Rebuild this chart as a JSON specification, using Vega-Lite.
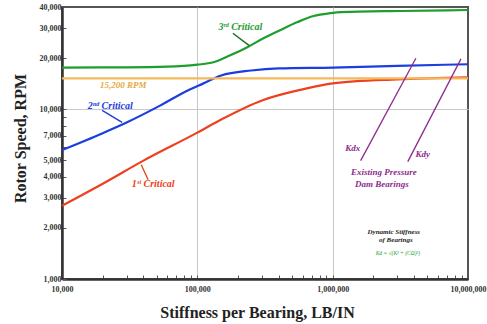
{
  "$schema": "https://vega.github.io/schema/vega-lite/v6.json",
  "autosize": "none",
  "width": 406,
  "height": 272,
  "padding": {"left": 62, "top": 7, "right": 19, "bottom": 45},
  "background": "white",
  "config": {
    "view": {"stroke": "#555555", "strokeWidth": 2},
    "font": "Liberation Serif",
    "axis": {
      "domainColor": "#333333",
      "domainWidth": 2.5,
      "tickColor": "#555555",
      "tickWidth": 1,
      "labelFont": "Liberation Serif",
      "labelFontWeight": "bold",
      "labelFontSize": 8,
      "labelColor": "#333333",
      "titleFont": "Liberation Serif",
      "titleFontWeight": "bold",
      "titleFontSize": 16,
      "titleColor": "#222222"
    }
  },
  "datasets": {
    "lines": [
      {"series": "3rd", "x": 10000, "y": 17600},
      {"series": "3rd", "x": 30000, "y": 17650},
      {"series": "3rd", "x": 60000, "y": 17800},
      {"series": "3rd", "x": 100000, "y": 18300},
      {"series": "3rd", "x": 131500, "y": 18900},
      {"series": "3rd", "x": 175000, "y": 20800},
      {"series": "3rd", "x": 234000, "y": 23200},
      {"series": "3rd", "x": 308000, "y": 26200},
      {"series": "3rd", "x": 412000, "y": 29300},
      {"series": "3rd", "x": 550000, "y": 32600},
      {"series": "3rd", "x": 723000, "y": 35400},
      {"series": "3rd", "x": 966000, "y": 36800},
      {"series": "3rd", "x": 1150000, "y": 37300},
      {"series": "3rd", "x": 3190000, "y": 37900},
      {"series": "3rd", "x": 10000000, "y": 38400},
      {"series": "2nd", "x": 10000, "y": 5750},
      {"series": "2nd", "x": 20000, "y": 7230},
      {"series": "2nd", "x": 30000, "y": 8350},
      {"series": "2nd", "x": 53000, "y": 10500},
      {"series": "2nd", "x": 85000, "y": 12900},
      {"series": "2nd", "x": 110000, "y": 14150},
      {"series": "2nd", "x": 150000, "y": 15800},
      {"series": "2nd", "x": 250000, "y": 16900},
      {"series": "2nd", "x": 400000, "y": 17400},
      {"series": "2nd", "x": 1000000, "y": 17600},
      {"series": "2nd", "x": 3000000, "y": 18000},
      {"series": "2nd", "x": 10000000, "y": 18400},
      {"series": "1st", "x": 10000, "y": 2700},
      {"series": "1st", "x": 20000, "y": 3640},
      {"series": "1st", "x": 40000, "y": 4980},
      {"series": "1st", "x": 100000, "y": 7280},
      {"series": "1st", "x": 150000, "y": 8690},
      {"series": "1st", "x": 300000, "y": 11260},
      {"series": "1st", "x": 600000, "y": 13100},
      {"series": "1st", "x": 1000000, "y": 14200},
      {"series": "1st", "x": 3000000, "y": 15000},
      {"series": "1st", "x": 10000000, "y": 15400},
      {"series": "rpm", "x": 10000, "y": 15200},
      {"series": "rpm", "x": 10000000, "y": 15200}
    ],
    "thin": [
      {"series": "Kdx", "x": 1610000, "y": 4980},
      {"series": "Kdx", "x": 4120000, "y": 19970},
      {"series": "Kdy", "x": 3590000, "y": 4910},
      {"series": "Kdy", "x": 8870000, "y": 19800},
      {"series": "a3", "x": 183000, "y": 28000},
      {"series": "a3", "x": 242000, "y": 23700},
      {"series": "a2", "x": 19800, "y": 9840},
      {"series": "a2", "x": 27800, "y": 8360},
      {"series": "a1", "x": 43300, "y": 3840},
      {"series": "a1", "x": 38500, "y": 4710}
    ],
    "labels": [
      {"group": "rpm", "text": "15,200 RPM", "x": 28300, "y": 13800},
      {"group": "2nd", "text": "2ⁿᵈ Critical", "x": 22700, "y": 10500},
      {"group": "3rd", "text": "3ʳᵈ Critical", "x": 208000, "y": 30450},
      {"group": "1st", "text": "1ˢᵗ Critical", "x": 47200, "y": 3640},
      {"group": "purple", "text": "Kdx", "x": 1410000, "y": 5870},
      {"group": "purple", "text": "Kdy", "x": 4640000, "y": 5470},
      {"group": "purple", "text": "Existing Pressure", "x": 2390000, "y": 4280},
      {"group": "purple", "text": "Dam Bearings", "x": 2310000, "y": 3640},
      {"group": "black", "text": "Dynamic Stiffness", "x": 2830000, "y": 1890},
      {"group": "black", "text": "of Bearings", "x": 2930000, "y": 1690},
      {"group": "formula", "text": "Kd = √(K² + (CΩ)²)", "x": 3030000, "y": 1420}
    ]
  },
  "encoding": {
    "x": {
      "field": "x", "type": "quantitative",
      "scale": {"type": "log", "domain": [10000, 10000000], "nice": false},
      "axis": {
        "title": "Stiffness per Bearing, LB/IN",
        "titleX": 195, "titleY": 38, "titleBaseline": "alphabetic",
        "values": [10000, 20000, 30000, 40000, 50000, 60000, 70000, 80000, 90000, 100000, 200000, 300000, 400000, 500000, 600000, 700000, 800000, 900000, 1000000, 2000000, 3000000, 4000000, 5000000, 6000000, 7000000, 8000000, 9000000, 10000000],
        "labelExpr": "indexof([10000,100000,1000000,10000000], datum.value) >= 0 ? format(datum.value, ',') : ''",
        "tickSize": -4,
        "labelPadding": 10,
        "labelFlush": false,
        "labelOverlap": false,
        "grid": true,
        "gridColor": {"condition": {"test": "datum.value == 100000 || datum.value == 1000000", "value": "#c8c8c8"}, "value": "transparent"},
        "gridWidth": 1
      }
    },
    "y": {
      "field": "y", "type": "quantitative",
      "scale": {"type": "log", "domain": [1000, 40000], "nice": false},
      "axis": {
        "title": "Rotor Speed, RPM",
        "titleX": -42, "titleY": 131, "titleAngle": -90, "titleBaseline": "middle", "titleAlign": "center",
        "values": [1000, 2000, 3000, 4000, 5000, 6000, 7000, 8000, 9000, 10000, 20000, 30000, 40000],
        "labelExpr": "indexof([1000,2000,3000,4000,5000,7000,10000,20000,30000,40000], datum.value) >= 0 ? format(datum.value, ',') : ''",
        "tickSize": -4,
        "labelPadding": 5,
        "labelOverlap": false,
        "labelFlush": false,
        "grid": true,
        "gridColor": {"condition": {"test": "datum.value == 10000", "value": "#c8c8c8"}, "value": "transparent"},
        "gridWidth": 1
      }
    }
  },
  "layer": [
    {
      "data": {"name": "lines"},
      "mark": {"type": "line", "strokeWidth": 2.2, "interpolate": "monotone"},
      "encoding": {
        "color": {"field": "series", "type": "nominal", "legend": null,
          "scale": {"domain": ["3rd", "2nd", "1st", "rpm"], "range": ["#1e9e2f", "#1c3ee0", "#ee4020", "#f3b95b"]}}
      }
    },
    {
      "data": {"name": "thin"},
      "transform": [{"filter": "datum.series == 'Kdx' || datum.series == 'Kdy'"}],
      "mark": {"type": "line", "strokeWidth": 1.3, "color": "#8e2b8e"},
      "encoding": {"detail": {"field": "series"}}
    },
    {
      "data": {"name": "thin"},
      "transform": [{"filter": "datum.series == 'a3'"}],
      "mark": {"type": "line", "strokeWidth": 1.4, "color": "#1a6e24"},
      "encoding": {"detail": {"field": "series"}}
    },
    {
      "data": {"name": "thin"},
      "transform": [{"filter": "datum.series == 'a2'"}],
      "mark": {"type": "line", "strokeWidth": 1.4, "color": "#1c3ee0"},
      "encoding": {"detail": {"field": "series"}}
    },
    {
      "data": {"name": "thin"},
      "transform": [{"filter": "datum.series == 'a1'"}],
      "mark": {"type": "line", "strokeWidth": 1.4, "color": "#d8501c"},
      "encoding": {"detail": {"field": "series"}}
    },
    {
      "data": {"name": "labels"},
      "transform": [{"filter": "datum.group == 'rpm'"}],
      "mark": {"type": "text", "font": "Liberation Serif", "fontStyle": "italic", "fontWeight": "bold", "fontSize": 9, "color": "#e8a840"},
      "encoding": {"text": {"field": "text"}}
    },
    {
      "data": {"name": "labels"},
      "transform": [{"filter": "datum.group == '2nd'"}],
      "mark": {"type": "text", "font": "Liberation Serif", "fontStyle": "italic", "fontWeight": "bold", "fontSize": 10, "color": "#1c3ee0"},
      "encoding": {"text": {"field": "text"}}
    },
    {
      "data": {"name": "labels"},
      "transform": [{"filter": "datum.group == '3rd'"}],
      "mark": {"type": "text", "font": "Liberation Serif", "fontStyle": "italic", "fontWeight": "bold", "fontSize": 10, "color": "#1e9e2f"},
      "encoding": {"text": {"field": "text"}}
    },
    {
      "data": {"name": "labels"},
      "transform": [{"filter": "datum.group == '1st'"}],
      "mark": {"type": "text", "font": "Liberation Serif", "fontStyle": "italic", "fontWeight": "bold", "fontSize": 10, "color": "#ee4020"},
      "encoding": {"text": {"field": "text"}}
    },
    {
      "data": {"name": "labels"},
      "transform": [{"filter": "datum.group == 'purple'"}],
      "mark": {"type": "text", "font": "Liberation Serif", "fontStyle": "italic", "fontWeight": "bold", "fontSize": 9, "color": "#8e2b8e"},
      "encoding": {"text": {"field": "text"}}
    },
    {
      "data": {"name": "labels"},
      "transform": [{"filter": "datum.group == 'black'"}],
      "mark": {"type": "text", "font": "Liberation Serif", "fontStyle": "italic", "fontWeight": "bold", "fontSize": 7, "color": "#222222"},
      "encoding": {"text": {"field": "text"}}
    },
    {
      "data": {"name": "labels"},
      "transform": [{"filter": "datum.group == 'formula'"}],
      "mark": {"type": "text", "font": "Liberation Serif", "fontStyle": "italic", "fontSize": 5.5, "color": "#1e9e2f"},
      "encoding": {"text": {"field": "text"}}
    }
  ]
}
